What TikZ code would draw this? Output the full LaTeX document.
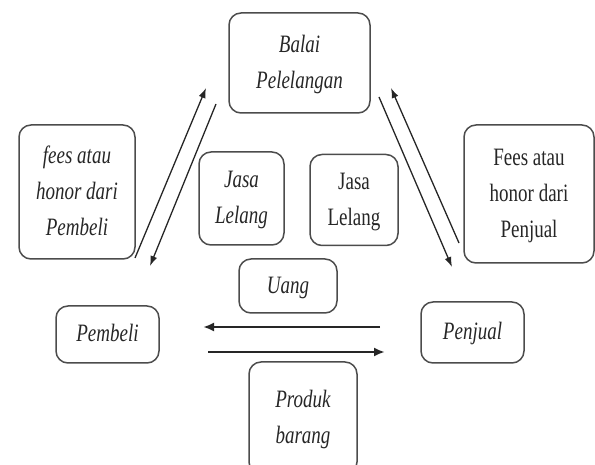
\documentclass[tikz,border=0pt]{standalone}
\usepackage{fontspec}
\setmainfont{Liberation Serif}
\usetikzlibrary{arrows.meta}
\newcommand{\sqtext}[1]{\scalebox{0.76}[1]{\setlength{\tabcolsep}{0pt}\begin{tabular}{c}#1\end{tabular}}}
\tikzset{
  boxnode/.style={draw=black!70, line width=1.5pt, rounded corners=12pt, inner sep=0pt,
    font=\fontsize{25}{36}\selectfont\itshape, text=black!85},
  uprightbox/.style={boxnode, font=\fontsize{25}{36}\selectfont\upshape},
  flow/.style={draw=black!85, line width=1.3pt, -{Latex[length=10pt,width=7pt]}},
  hflow/.style={draw=black!85, line width=2.2pt, -{Latex[length=11pt,width=9pt]}}
}
\begin{document}
\begin{tikzpicture}[x=1pt,y=-1pt]
\useasboundingbox (0,0) rectangle (595,465);
\node[boxnode, minimum width=141pt, minimum height=100pt] (balai) at (299.5,63) {\sqtext{Balai\\Pelelangan}};
\node[boxnode, minimum width=116pt, minimum height=134pt] (feesL) at (77,192) {\sqtext{fees atau\\honor dari\\Pembeli}};
\node[boxnode, minimum width=85pt, minimum height=93pt] (jasaI) at (241.5,198.5) {\sqtext{Jasa\\Lelang}};
\node[uprightbox, minimum width=88pt, minimum height=91pt] (jasaU) at (354,200) {\sqtext{Jasa\\Lelang}};
\node[uprightbox, minimum width=130pt, minimum height=138pt] (feesR) at (529,194) {\sqtext{Fees atau\\honor dari\\Penjual}};
\node[boxnode, minimum width=98pt, minimum height=54pt] (uang) at (288,286) {\sqtext{Uang}};
\node[boxnode, minimum width=103pt, minimum height=57pt] (pembeli) at (107.5,334.5) {\sqtext{Pembeli}};
\node[boxnode, minimum width=103pt, minimum height=61pt] (penjual) at (472.5,332.5) {\sqtext{Penjual}};
\node[boxnode, minimum width=108pt, minimum height=112pt] (produk) at (303,418) {\sqtext{Produk\\barang}};
% arrow end points
\coordinate (lu1) at (135,258); \coordinate (lu2) at (206,88);
\coordinate (ld1) at (216,104); \coordinate (ld2) at (150,266);
\coordinate (rd1) at (379,97);  \coordinate (rd2) at (452,267);
\coordinate (ru1) at (459,243); \coordinate (ru2) at (391,88);
\coordinate (h11) at (380,327); \coordinate (h12) at (203,327);
\coordinate (h21) at (208,352); \coordinate (h22) at (385,352);
\draw[flow] (lu1) -- (lu2);
\draw[flow] (ld1) -- (ld2);
\draw[flow] (rd1) -- (rd2);
\draw[flow] (ru1) -- (ru2);
\draw[hflow] (h11) -- (h12);
\draw[hflow] (h21) -- (h22);
\end{tikzpicture}
\end{document}
